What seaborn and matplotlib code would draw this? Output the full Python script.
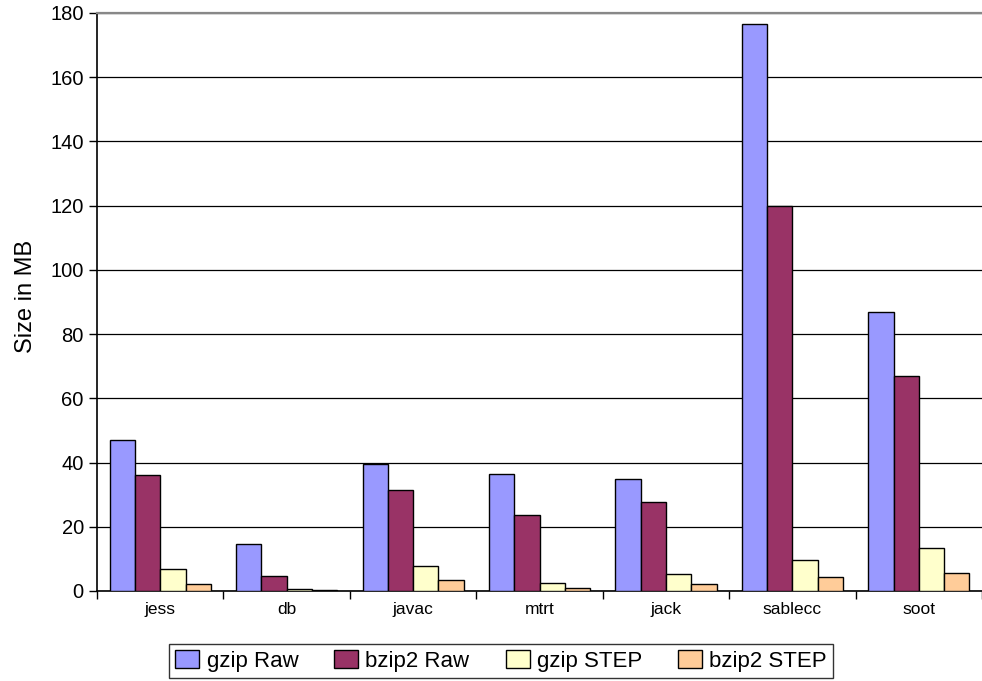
import numpy as np
import pandas as pd
import matplotlib
matplotlib.use("Agg")
import matplotlib.pyplot as plt
import seaborn as sns

categories = ["jess", "db", "javac", "mtrt", "jack", "sablecc", "soot"]
series = ["gzip Raw", "bzip2 Raw", "gzip STEP", "bzip2 STEP"]
gzip_raw = [46.9, 14.6, 39.7, 36.4, 35.0, 176.7, 86.8]
bzip2_raw = [36.0, 4.7, 31.4, 23.8, 27.8, 120.0, 67.1]
gzip_step = [7.0, 0.6, 7.8, 2.5, 5.3, 9.7, 13.4]
bzip2_step = [2.3, 0.3, 3.5, 1.0, 2.2, 4.3, 5.6]
colors = ["#9999FF", "#993366", "#FFFFCC", "#FFCC99"]
yticks = [0, 20, 40, 60, 80, 100, 120, 140, 160, 180]

values = [gzip_raw, bzip2_raw, gzip_step, bzip2_step]
rows = []
for s, vals in zip(series, values):
    for c, v in zip(categories, vals):
        rows.append({"category": c, "series": s, "value": v})
df = pd.DataFrame(rows)

sns.set_theme(style="white")
plt.rcParams["font.family"] = ["Liberation Sans", "DejaVu Sans"]

fig = plt.figure(figsize=(9.82, 6.81), dpi=100)
ax = fig.add_axes([97/982, 1-591/681, 885/982, 578/681])

sns.barplot(data=df, x="category", y="value", hue="series", order=categories,
            hue_order=series, palette=colors, width=0.8, edgecolor="black",
            linewidth=1.0, saturation=1.0, ax=ax, legend=True, zorder=3)

ax.set_ylim(0, 180)
ax.set_xlim(-0.5, -0.5 + 885/127.7)
ax.set_yticks(yticks)
ax.set_yticklabels([str(t) for t in yticks], fontsize=14.5, color="black")
ax.yaxis.grid(True, color="black", linewidth=0.9, zorder=0)
ax.set_axisbelow(True)
ax.tick_params(axis="y", direction="out", length=6, width=1, color="black", pad=3.5, left=True)
ax.set_xticks(range(len(categories)))
ax.set_xticklabels(categories, fontsize=12.5, color="black")
ax.tick_params(axis="x", which="major", length=0, pad=8)
ax.set_xticks(np.arange(-0.5, len(categories) + 0.5, 1.0), minor=True)
ax.tick_params(axis="x", which="minor", direction="out", length=6, width=1, color="black", bottom=True)
ax.set_xlabel("")
ax.set_ylabel("Size in MB", fontsize=17, color="black")
ax.yaxis.set_label_coords(-0.068, 0.51)

for side in ["left", "bottom"]:
    ax.spines[side].set_color("black")
    ax.spines[side].set_linewidth(1.2)
ax.spines["right"].set_visible(False)
ax.spines["top"].set_color("#888888")
ax.spines["top"].set_linewidth(1.6)

handles, labels = ax.get_legend_handles_labels()
ax.legend_.remove()
leg = fig.legend(handles, labels, loc="center", bbox_to_anchor=(501/982, 1-661/681),
                 ncol=4, fontsize=16, frameon=True, fancybox=False, edgecolor="black",
                 handlelength=1.08, handleheight=0.81, handletextpad=0.32, columnspacing=1.62,
                 borderpad=0.3)
leg.get_frame().set_linewidth(1.0)
for t in leg.get_texts():
    t.set_color("black")

fig.savefig("out.png", dpi=100, facecolor="white")
